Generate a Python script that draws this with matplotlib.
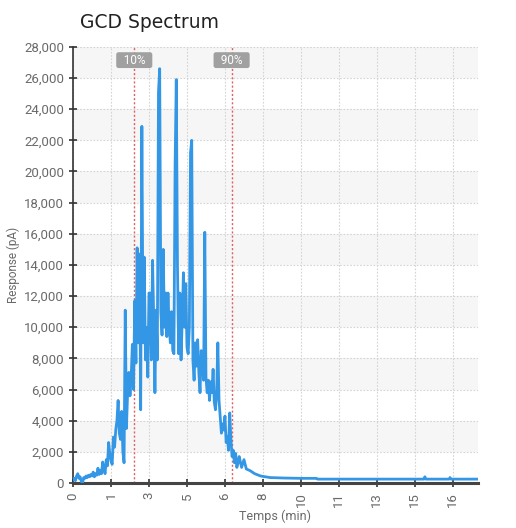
import matplotlib
matplotlib.use("Agg")
import matplotlib.pyplot as plt
import numpy as np

# dense part of the trace, sampled every 0.05 min from 0 to 7.0 min
step = 0.05
response_main = [
    200, 300, 150, 450, 600, 300, 400, 100, 0, 350,
    300, 450, 350, 500, 400, 550, 450, 700, 400, 600,
    500, 950, 550, 800, 600, 1350, 900, 600, 1500, 1100,
    2600, 1900, 1400, 1200, 2950, 2300, 3400, 4000, 5300, 3200,
    2800, 4600, 2000, 1300, 11100, 3500, 5800, 7100, 5600, 6800,
    8900, 6000, 11700, 7700, 15100, 9000, 14700, 4700, 22900, 9000,
    14500, 7900, 10000, 6800, 12200, 12200, 7900, 14300, 10500, 5800,
    11100, 7900, 25100, 26600, 11000, 9500, 15000, 10000, 12200, 9400,
    12200, 10000, 9000, 11000, 8500, 8300, 20400, 25900, 13900, 8300,
    12200, 7900, 10500, 13500, 10000, 12800, 8700, 8300, 10000, 21200,
    22000, 7900, 6600, 9000, 7500, 9200, 7100, 5800, 8500, 7900,
    6600, 16100, 6800, 5800, 6600, 5300, 6500, 5800, 7300, 5200,
    4700, 5800, 9000, 5300, 4200, 3200, 3800, 3400, 4300, 2600,
    3000, 2100, 4500, 2800, 1700, 2100, 1300, 1900, 1000, 1300,
    1700,
]
# sparse tail
tail_time = [7.1, 7.2, 7.3, 7.45, 7.65, 7.9, 8.3, 8.9, 9.6, 10.25, 10.3,
             14.78, 14.82, 14.86, 15.84, 15.88, 15.92, 17.1]
tail_resp = [1000, 1500, 900, 800, 600, 450, 350, 320, 300, 300, 250,
             250, 400, 250, 250, 350, 250, 250]

tick_pos = [0, 1.6, 3.2, 4.8, 6.4, 8.0, 9.6, 11.2, 12.8, 14.4, 16.0]
tick_lab = ["0", "1", "3", "5", "6", "8", "10", "11", "13", "15", "16"]
pct_time = [2.58, 6.68]
pct_lab = ["10%", "90%"]

time = list(np.arange(len(response_main)) * step) + tail_time
resp = response_main + tail_resp

plt.rcParams['font.family'] = ['Roboto', 'DejaVu Sans']

fig = plt.figure(figsize=(5.16, 5.28), dpi=100)
ax = fig.add_axes([0.1415, 0.0852, 0.7845, 0.826])

# alternating background bands
for lo in range(2000, 28000, 4000):
    ax.axhspan(lo, lo + 2000, color='#f6f6f6', zorder=0, lw=0)

ax.plot(time, resp, color='#3497e6', lw=2.0, zorder=3)

for t, lab in zip(pct_time, pct_lab):
    ax.axvline(t, color='#e06060', ls=(0, (1.5, 1.5)), lw=1, zorder=2)
    ax.text(t, 27150, "  " + lab + "  ", ha='center', va='center', fontsize=8.5,
            color='white', zorder=4,
            bbox=dict(boxstyle='round,pad=0.12,rounding_size=0.2',
                      fc='#a0a0a0', ec='none'))

ax.set_xlim(0, 17.05)
ax.set_ylim(0, 28000)
ax.set_xticks(tick_pos)
ax.set_xticklabels(tick_lab, rotation=90)
ax.set_yticks(range(0, 28001, 2000))
ax.set_yticklabels([f"{v:,}" for v in range(0, 28001, 2000)])
ax.grid(True, color='#d4d4d4', ls=(0, (1.5, 1.5)), lw=0.8, zorder=1)
ax.set_axisbelow(True)

for s in ['top', 'right']:
    ax.spines[s].set_visible(False)
ax.spines['left'].set_color('#333333')
ax.spines['left'].set_linewidth(1.2)
ax.spines['bottom'].set_color('#444444')
ax.spines['bottom'].set_linewidth(2.2)
ax.tick_params(axis='both', direction='inout', length=6, width=1.2,
               color='#333333', labelcolor='#6a6a6a', labelsize=9.5)

ax.set_xlabel("Temps (min)", fontsize=9, color='#6a6a6a', labelpad=2)
ax.set_ylabel("Response (pA)", fontsize=8.5, color='#6a6a6a', labelpad=3)

fig.text(0.155, 0.958, "GCD Spectrum", fontsize=13.5, color='#222222',
         family='DejaVu Sans', va='center', ha='left')

fig.savefig("out.png", dpi=100)
